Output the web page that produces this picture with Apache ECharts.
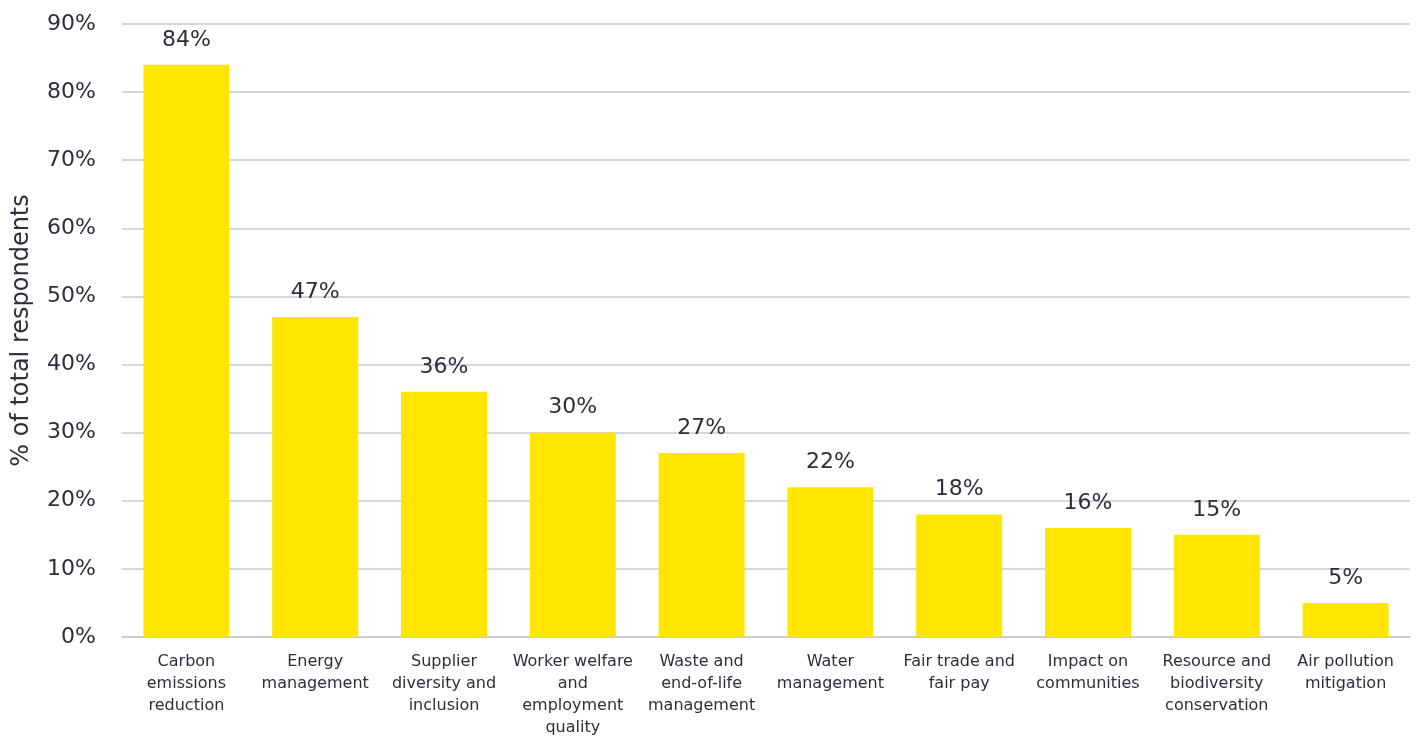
<!DOCTYPE html>
<html>
<head>
<meta charset="utf-8">
<script src="https://cdn.jsdelivr.net/npm/echarts@6/dist/echarts.min.js"></script>
<style>
html,body{margin:0;padding:0;background:#fff;}
#chart{width:1417px;height:739px;}
</style>
</head>
<body>
<div id="chart"></div>
<script>
const categories = [
  "Carbon\nemissions\nreduction",
  "Energy\nmanagement",
  "Supplier\ndiversity and\ninclusion",
  "Worker welfare\nand\nemployment\nquality",
  "Waste and\nend-of-life\nmanagement",
  "Water\nmanagement",
  "Fair trade and\nfair pay",
  "Impact on\ncommunities",
  "Resource and\nbiodiversity\nconservation",
  "Air pollution\nmitigation"
];
const values = [84, 47, 36, 30, 27, 22, 18, 16, 15, 5];
const yAxisName = "% of total respondents";

const textColor = "#2e2e38";
const font = "DejaVu Sans";

const chart = echarts.init(document.getElementById('chart'));
chart.setOption({
  animation: false,
  backgroundColor: '#ffffff',
  textStyle: { fontFamily: font, color: textColor },
  grid: { left: 122, right: 7, top: 24, bottom: 90, containLabel: false },
  xAxis: {
    type: 'category',
    data: categories,
    axisLine: { show: true, lineStyle: { color: '#c8c8d2', width: 1.5 } },
    axisTick: { show: false },
    axisLabel: {
      interval: 0,
      fontFamily: font,
      fontSize: 16,
      lineHeight: 22,
      color: textColor,
      margin: 14
    }
  },
  yAxis: {
    type: 'value',
    min: 0,
    max: 90,
    interval: 10,
    name: yAxisName,
    nameLocation: 'middle',
    nameGap: 88,
    nameTextStyle: { fontFamily: font, fontSize: 24, color: textColor },
    axisLine: { show: false },
    axisTick: { show: false },
    splitLine: { lineStyle: { color: '#c8c8d2', width: 1.5 } },
    axisLabel: {
      formatter: '{value}%',
      fontFamily: font,
      fontSize: 22,
      color: textColor,
      margin: 26
    }
  },
  series: [{
    type: 'bar',
    data: values,
    barWidth: 86,
    itemStyle: { color: '#ffe600' },
    label: {
      show: true,
      position: 'top',
      distance: 14,
      formatter: '{c}%',
      fontFamily: font,
      fontSize: 22,
      color: textColor
    }
  }]
});
</script>
</body>
</html>
